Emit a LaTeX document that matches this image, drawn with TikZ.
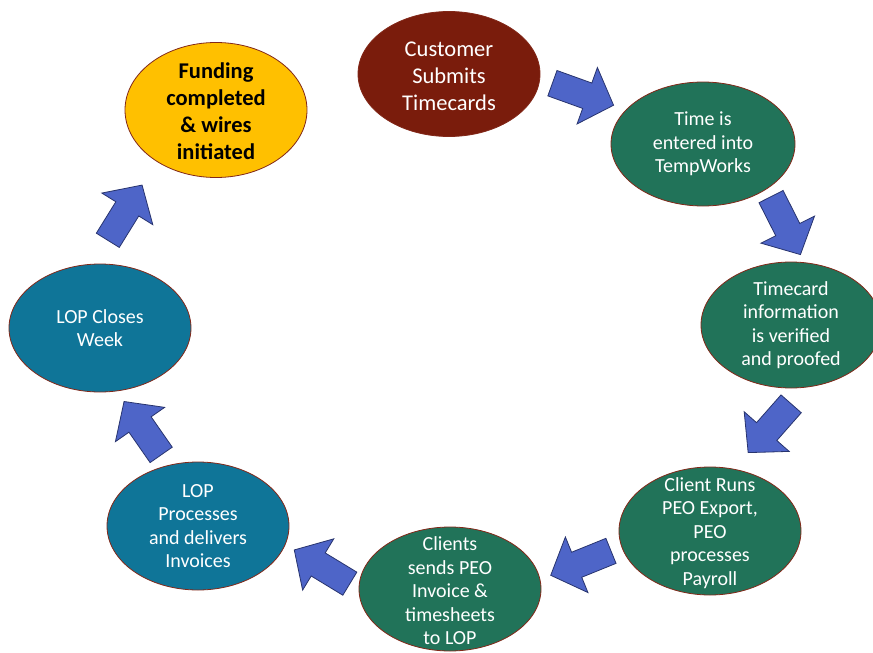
\documentclass[tikz,border=0pt]{standalone}
\usepackage{fontspec}
\setmainfont{Carlito}
\usepackage{xcolor}
\usetikzlibrary{shapes.geometric, calc}
\definecolor{cardred}{RGB}{122, 28, 12}
\definecolor{cardgreen}{RGB}{33, 115, 89}
\definecolor{cardteal}{RGB}{15, 117, 152}
\definecolor{cardgold}{RGB}{255, 192, 0}
\definecolor{cardedge}{RGB}{130, 40, 25}
\definecolor{flowblue}{RGB}{78, 101, 200}
\definecolor{flowedge}{RGB}{40, 52, 110}

\tikzset{
  stage/.style={ellipse, draw=cardedge, line width=0.8pt, inner sep=0pt,
    minimum width=182pt, minimum height=128pt},
  stagetext/.style={text=white, align=center, inner sep=0pt,
    font=\fontsize{20}{23.5}\selectfont},
  bigtext/.style={align=center, inner sep=0pt,
    font=\fontsize{22.5}{27}\selectfont},
  flowarrow/.style={fill=flowblue, draw=flowedge, line width=0.8pt},
}

% block arrow between two ellipse anchors
\newcommand{\flow}[2]{%
  \path[flowarrow] let \p1=(#1), \p2=(#2), \p3=($(\p1)!0.5!(\p2)$),
    \n1={atan2(\y2-\y1,\x2-\x1)} in
    ($(\p3)+(\n1:-32.5pt)+(\n1+90:13.5pt)$) -- ($(\p3)+(\n1:4.5pt)+(\n1+90:13.5pt)$)
    -- ($(\p3)+(\n1:4.5pt)+(\n1+90:30pt)$) -- ($(\p3)+(\n1:32.5pt)$)
    -- ($(\p3)+(\n1:4.5pt)+(\n1-90:30pt)$) -- ($(\p3)+(\n1:4.5pt)+(\n1-90:13.5pt)$)
    -- ($(\p3)+(\n1:-32.5pt)+(\n1-90:13.5pt)$) -- cycle;}

\begin{document}
\begin{tikzpicture}[x=1pt, y=-1pt]
\useasboundingbox (0,0) rectangle (873,653);

% Customer
\node[stage, fill=cardred, minimum height=125pt] (cust) at (449,74) {};
\node[bigtext, text=white] (cust-t) at (449,76) {Customer\\Submits\\Timecards};

% TempWorks
\node[stage, fill=cardgreen, minimum width=184pt, minimum height=124pt] (temp) at (703,144) {};
\node[stagetext] (temp-t) at (temp) {Time is\\entered into\\TempWorks};

% Verify
\node[stage, fill=cardgreen, minimum width=180pt, minimum height=126pt] (card) at (791,325) {};
\node[stagetext] (card-t) at (card) {Timecard\\information\\is verified\\and proofed};

% PEO export
\node[stage, fill=cardgreen] (runs) at (710,531) {};
\node[stagetext] (runs-t) at (710,533) {Client Runs\\PEO Export,\\PEO\\processes\\Payroll};

% PEO invoice
\node[stage, fill=cardgreen, minimum height=124pt] (sends) at (450,589) {};
\node[stagetext] (sends-t) at (450,591) {Clients\\sends PEO\\Invoice \&\\timesheets\\to LOP};

% LOP invoices
\node[stage, fill=cardteal] (proc) at (198,526) {};
\node[stagetext] (proc-t) at (proc) {LOP\\Processes\\and delivers\\Invoices};

% LOP week
\node[stage, fill=cardteal] (close) at (100,328) {};
\node[stagetext] (close-t) at (close) {LOP Closes\\Week};

% Funding
\node[stage, fill=cardgold, minimum height=135pt] (fund) at (216,110) {};
\node[bigtext, font=\fontsize{22.5}{27}\selectfont\bfseries] (fund-t) at (216,111) {Funding\\completed\\\& wires\\initiated};

% Arrows
\flow{cust.-3}{temp.156}
\flow{temp.-35}{card.78}
\flow{card.-77}{runs.69}
\flow{runs.190}{sends.6}
\flow{sends.180}{proc.-12}
\flow{proc.116}{close.-75}
\flow{close.96}{fund.221}
\end{tikzpicture}
\end{document}
